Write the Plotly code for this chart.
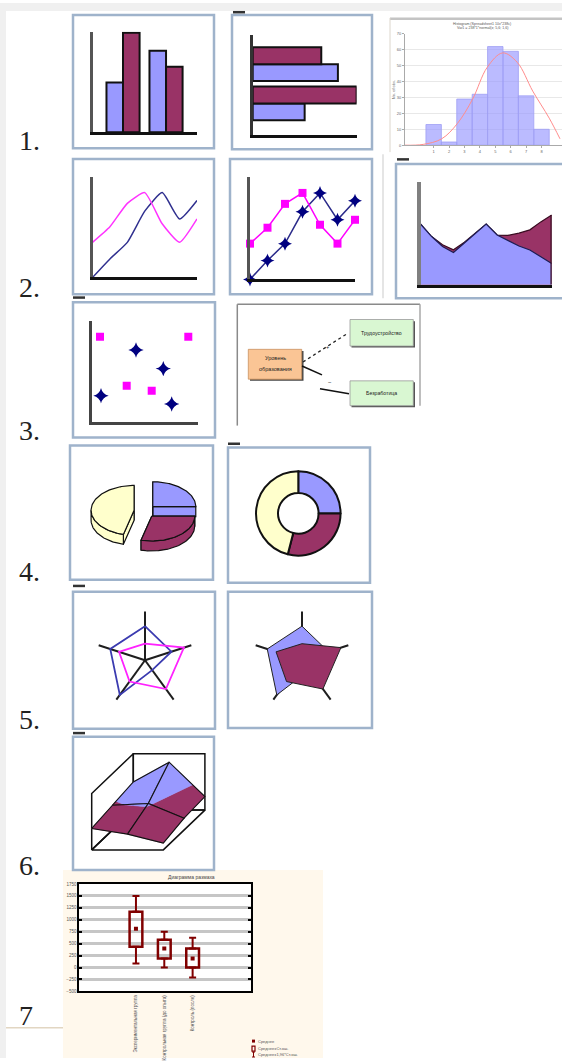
import numpy as np
import plotly.graph_objects as go

W, H = 562, 1061

# ---------------- data ----------------
bar_cats = [0, 1]
bar_blue = [50, 82]
bar_maroon = [100, 66]

hist_bins = [1, 2, 3, 4, 5, 6, 7, 8]
hist_counts = [13, 2, 29, 32, 62, 59, 31, 10]
hist_curve_x = [-0.86, 0.32, 1.52, 2.53, 3.53, 4.48, 5.48, 6.43, 7.43, 8.5, 9.2]
hist_curve_y = [0, 0.5, 4, 13.5, 29, 49, 58, 52, 34, 17, 4]
hist_yticks = [0, 10, 20, 30, 40, 50, 60, 70]

line_x = [0, 1, 2, 3, 4, 5, 6]
line_pink = [36, 52, 76, 87, 55, 36, 60]
line_navy = [0, 19, 36, 68, 87, 60, 79]

area_x = list(range(13))
area_blue = [60.6, 48.3, 38.3, 32.3, 41.8, 51.3, 60.8, 49.8, 44.3, 38.8, 34.8, 28.3, 21.3]
area_maroon = [60.6, 48.3, 40.0, 35.0, 42.5, 51.3, 60.8, 49.8, 49.5, 51.7, 55.0, 63.0, 70.0]

scatter_pink_x = [0.83, 9.66, 3.5, 6.0]
scatter_pink_y = [8.53, 8.53, 3.6, 3.1]
scatter_navy_x = [4.43, 7.16, 0.93, 8.0]
scatter_navy_y = [7.2, 5.33, 2.6, 1.77]

pie_values = [25, 29, 46]

radar_axes = ["A", "B", "C", "D", "E"]
radar_blue = [0.70, 0.75, 0.88, 0.25, 0.57]
radar_pink = [0.34, 0.56, 0.54, 0.73, 0.84]

# surface heights, rows from front (0) to back (2)
surface_z = [
    [0.38, 0.28, 0.12],
    [0.44, 0.47, 0.21],
    [0.50, 0.85, 0.24],
]
surface_band = 0.45

box_labels = ["Экспериментальная группа", "Контрольная группа (до опыта)", "Контроль (после)"]
box_mean = [812, 396, 187]
box_se_lo = [437, 187, 0]
box_se_hi = [1167, 583, 396]
box_ci_lo = [83, 0, -208]
box_ci_hi = [1500, 750, 625]
box_yticks = [-500, -250, 0, 250, 500, 750, 1000, 1250, 1500, 1750]

# ---------------- style ----------------
BLUE = "#9999ff"
MAROON = "#993366"
YELLOW = "#ffffcc"
PINK = "#ff00ff"
NAVY = "#000080"
FRAME = "#9fb3cb"
SANS = "Liberation Sans"
SERIF = "Liberation Serif"

fig = go.Figure()
shapes = []
annotations = []
layout = {}
axis_count = [0]


def px_x(x):
    return x / W


def px_y(y):
    return 1 - y / H


def new_axes(box, xr, yr, xkw=None, ykw=None):
    axis_count[0] += 1
    k = axis_count[0]
    s = "" if k == 1 else str(k)
    x0, y0, x1, y1 = box
    base = dict(showgrid=False, zeroline=False, showticklabels=False, ticks="",
                showline=False, fixedrange=True)
    xa = dict(base, domain=[x0 / W, x1 / W], range=xr, anchor="y" + s)
    ya = dict(base, domain=[1 - y1 / H, 1 - y0 / H], range=yr, anchor="x" + s)
    if xkw:
        xa.update(xkw)
    if ykw:
        ya.update(ykw)
    layout["xaxis" + s] = xa
    layout["yaxis" + s] = ya
    return "x" + s, "y" + s


def paper_rect(x0, y0, x1, y1, line_color=None, width=0, fill=None, layer="above"):
    shapes.append(dict(type="rect", xref="paper", yref="paper",
                       x0=px_x(x0), x1=px_x(x1), y0=px_y(y1), y1=px_y(y0),
                       line=dict(color=line_color or "rgba(0,0,0,0)", width=width),
                       fillcolor=fill or "rgba(0,0,0,0)", layer=layer))


def paper_line(x0, y0, x1, y1, color, width, dash="solid", layer="above"):
    shapes.append(dict(type="line", xref="paper", yref="paper",
                       x0=px_x(x0), x1=px_x(x1), y0=px_y(y0), y1=px_y(y1),
                       line=dict(color=color, width=width, dash=dash), layer=layer))


def paper_text(x, y, text, size, color="#222", family=SANS, xanchor="center",
               yanchor="middle", angle=0):
    annotations.append(dict(xref="paper", yref="paper", x=px_x(x), y=px_y(y), text=text,
                            showarrow=False, font=dict(size=size, color=color, family=family),
                            xanchor=xanchor, yanchor=yanchor, textangle=angle, borderpad=0))


def poly(xs, ys, fill, xa, ya, line_color="#111", lw=1.2):
    fig.add_scatter(x=list(xs) + [xs[0]], y=list(ys) + [ys[0]], fill="toself",
                    fillcolor=fill, mode="lines", line=dict(color=line_color, width=lw),
                    xaxis=xa, yaxis=ya, hoverinfo="skip")


def axline(color, width):
    return dict(showline=True, linecolor=color, linewidth=width)


# ---------------- page background ----------------
paper_rect(0, 0, 6, H, fill="#f0f0f0", layer="below")
paper_rect(0, 0, W, 8, fill="#f0f0f0", layer="below")
paper_rect(63, 872, 323, 1061, fill="#fff8ec", layer="below")
paper_rect(79.3, 886, 250.7, 994, fill="#ffffff", layer="below")

# ---------------- 1. columns ----------------
xa, ya = new_axes((92.5, 29, 197, 130), [-0.71, 1.72], [0, 101],
                  axline("#111", 3), axline("#555", 3))
bw = 0.385
fig.add_bar(x=bar_cats, y=bar_blue, width=bw, offset=-bw, xaxis=xa, yaxis=ya,
            marker=dict(color=BLUE, line=dict(color="#111", width=2)))
fig.add_bar(x=bar_cats, y=bar_maroon, width=bw, offset=0, xaxis=xa, yaxis=ya,
            marker=dict(color=MAROON, line=dict(color="#111", width=2)))

# ---------------- 1. horizontal bars ----------------
xa, ya = new_axes((252.7, 32, 356.6, 133), [0, 100], [-0.81, 1.746],
                  axline("#111", 3), axline("#333", 3))
bh = 0.43
fig.add_bar(y=bar_cats, x=bar_blue, orientation="h", width=bh, offset=-bh, xaxis=xa, yaxis=ya,
            marker=dict(color=BLUE, line=dict(color="#111", width=2)))
fig.add_bar(y=bar_cats, x=bar_maroon, orientation="h", width=bh, offset=0, xaxis=xa, yaxis=ya,
            marker=dict(color=MAROON, line=dict(color="#111", width=2)))

# ---------------- 1. histogram ----------------
tiny = dict(size=4, color="#666", family=SANS)
xa, ya = new_axes((405, 31, 562, 143), [-0.86, 9.33], [0, 70],
                  dict(showticklabels=True, tickvals=hist_bins, tickfont=tiny, ticks="outside",
                       ticklen=2, tickcolor="#aaa", showline=True, linecolor="#aaa", linewidth=1),
                  dict(showticklabels=True, tickvals=hist_yticks, tickfont=tiny, showgrid=True,
                       gridcolor="#e8e8e8", gridwidth=1, ticks="outside", ticklen=2,
                       tickcolor="#aaa", showline=True, linecolor="#aaa", linewidth=1,
                       title=dict(text="No. of obs.", font=tiny, standoff=1)))
fig.add_bar(x=hist_bins, y=hist_counts, width=1, xaxis=xa, yaxis=ya,
            marker=dict(color="rgba(150,150,255,0.65)", line=dict(color="#a0a0f4", width=0.8)))
fig.add_scatter(x=hist_curve_x, y=hist_curve_y, mode="lines", xaxis=xa, yaxis=ya,
                line=dict(color="#ff8c8c", width=1, shape="spline"))
paper_rect(390, 14.5, 562, 17, fill="#c4c4c4")
paper_line(390, 15, 390, 150, "#dcd6cc", 1)
paper_text(482, 21, "Histogram (Spreadsheet1 10v*238c)", 3.6, color="#555")
paper_text(482, 25.5, "Var1 = 238*1*normal(x; 5,6; 1,6)", 3.6, color="#555")

# ---------------- 2. lines ----------------
xa, ya = new_axes((92.5, 175, 197, 276), [0, 6], [0, 103], axline("#111", 3), axline("#555", 3))
fig.add_scatter(x=line_x, y=line_navy, mode="lines", xaxis=xa, yaxis=ya,
                line=dict(color="#30308f", width=1.5, shape="spline", smoothing=0.5))
fig.add_scatter(x=line_x, y=line_pink, mode="lines", xaxis=xa, yaxis=ya,
                line=dict(color="#ff33ff", width=1.5, shape="spline", smoothing=0.5))

# ---------------- 2. lines with markers ----------------
xa, ya = new_axes((250, 175, 355, 278), [0, 6], [0, 103], axline("#111", 3), axline("#555", 3))
fig.add_scatter(x=line_x, y=line_navy, mode="lines+markers", xaxis=xa, yaxis=ya, cliponaxis=False,
                line=dict(color="#2b2b8a", width=1.5),
                marker=dict(symbol="star-diamond", size=10, color=NAVY))
fig.add_scatter(x=line_x, y=line_pink, mode="lines+markers", xaxis=xa, yaxis=ya, cliponaxis=False,
                line=dict(color=PINK, width=1.5),
                marker=dict(symbol="square", size=8, color=PINK))

# ---------------- 2. area ----------------
xa, ya = new_axes((420.7, 180, 551.7, 283.3), [0, 12], [0, 103],
                  axline("#111", 2.5), axline("#808080", 4))
fig.add_scatter(x=area_x, y=area_maroon, mode="lines", fill="tozeroy", fillcolor=MAROON,
                line=dict(color="#3a0d22", width=1.2), xaxis=xa, yaxis=ya)
fig.add_scatter(x=area_x, y=area_blue, mode="lines", fill="tozeroy", fillcolor=BLUE,
                line=dict(color="#1d1d55", width=1.2), xaxis=xa, yaxis=ya)
fig.add_scatter(x=[area_x[-1]] * 2, y=[0, area_maroon[-1]], mode="lines", xaxis=xa, yaxis=ya,
                line=dict(color="#3a0d22", width=2.5))
paper_line(383, 152, 383, 297, "#d4d4d4", 1.2)

# ---------------- 3. scatter ----------------
xa, ya = new_axes((91.7, 320, 198.3, 421), [0, 10.66], [0, 10.1],
                  axline("#444", 3), axline("#444", 3))
fig.add_scatter(x=scatter_pink_x, y=scatter_pink_y, mode="markers", xaxis=xa, yaxis=ya,
                marker=dict(symbol="square", size=8, color=PINK))
fig.add_scatter(x=scatter_navy_x, y=scatter_navy_y, mode="markers", xaxis=xa, yaxis=ya,
                marker=dict(symbol="star-diamond", size=11, color=NAVY))

# ---------------- 3. scheme ----------------
paper_line(237.3, 303, 237.3, 425, "#8a8a8a", 1.5)
paper_line(237.3, 303, 420, 303, "#8a8a8a", 1.5)
paper_line(420, 303, 420, 405, "#a8a8a8", 1.5)
paper_rect(250, 350, 303.5, 380, fill="#444")
paper_rect(248.3, 348.3, 301.7, 378.3, line_color="#c89060", width=0.8, fill="#fac595")
paper_rect(351.5, 320, 415, 346.5, fill="#555")
paper_rect(350, 318.3, 413.3, 345, line_color="#9a9a9a", width=0.8, fill="#d9f7d2")
paper_rect(351.5, 381.5, 415, 406.5, fill="#555")
paper_rect(350, 380, 413.3, 405, line_color="#9a9a9a", width=0.8, fill="#d9f7d2")
paper_text(275, 357.5, "Уровень", 5.5)
paper_text(275, 368.5, "образования", 5.5)
paper_text(381.7, 331.7, "Трудоустройство", 5.2)
paper_text(381.7, 392.5, "Безработица", 5.2)
paper_line(303, 361, 348, 332, "#222", 1.3, dash="dot")
paper_line(302, 365, 322, 374, "#111", 1.6)
paper_line(320, 388, 349, 393, "#111", 1.6)
paper_text(327.5, 346, "+", 5.5)
paper_text(330, 381, "−", 6)

# ---------------- 4. exploded 3-D pie ----------------
pie_colors = [BLUE, MAROON, YELLOW]
xa, ya = new_axes((70, 445, 213, 580), [70, 213], [580, 445])


def add_pie3d(values, colors, cx, cy, rx, ry, depth, pull):
    total = float(sum(values))
    parts = []
    start = 90.0
    for v, c in zip(values, colors):
        sweep = 360.0 * v / total
        a_hi, a_lo = start, start - sweep
        start = a_lo
        mid = np.radians((a_hi + a_lo) / 2)
        ox = cx + pull * np.cos(mid)
        oy = cy - pull * np.sin(mid) * ry / rx
        parts.append((oy, ox, a_lo, a_hi, c))
    parts.sort(key=lambda p: p[0])
    for oy, ox, a_lo, a_hi, c in parts:
        def rim(t):
            r = np.radians(t)
            return ox + rx * np.cos(r), oy - ry * np.sin(r)
        for a in (a_lo, a_hi):
            ex, ey = rim(np.array([a]))
            poly([ox, ex[0], ex[0], ox], [oy, ey[0], ey[0] + depth, oy + depth], c, xa, ya)
        f0, f1 = max(a_lo, -180.0), min(a_hi, 0.0)
        if f1 > f0:
            t = np.linspace(f0, f1, 50)
            sx, sy = rim(t)
            poly(list(sx) + list(sx[::-1]), list(sy) + list((sy + depth)[::-1]), c, xa, ya)
        t = np.linspace(a_lo, a_hi, 80)
        sx, sy = rim(t)
        poly([ox] + list(sx), [oy] + list(sy), c, xa, ya)


add_pie3d(pie_values, pie_colors, 145, 511, 43, 25, 10, 11)

# ---------------- 4. doughnut ----------------
fig.add_trace(go.Pie(values=pie_values, sort=False, direction="clockwise", rotation=0,
                     hole=0.48, textinfo="none", hoverinfo="skip",
                     marker=dict(colors=pie_colors, line=dict(color="#111", width=2)),
                     domain=dict(x=[px_x(255.8), px_x(340.8)], y=[px_y(555.8), px_y(470.8)])))

# ---------------- 5. radar charts ----------------
theta = radar_axes + radar_axes[:1]
fig.add_scatterpolar(r=radar_blue + radar_blue[:1], theta=theta, mode="lines", subplot="polar",
                     line=dict(color="#3b3bb0", width=1.8))
fig.add_scatterpolar(r=radar_pink + radar_pink[:1], theta=theta, mode="lines", subplot="polar",
                     line=dict(color="#ff22ff", width=1.8))
fig.add_scatterpolar(r=radar_blue + radar_blue[:1], theta=theta, mode="lines", subplot="polar2",
                     fill="toself", fillcolor=BLUE, line=dict(color="#222", width=1))
fig.add_scatterpolar(r=radar_pink + radar_pink[:1], theta=theta, mode="lines", subplot="polar2",
                     fill="toself", fillcolor=MAROON, line=dict(color="#222", width=1))


def polar_layout(cx, cy, r):
    return dict(
        domain=dict(x=[px_x(cx - r), px_x(cx + r)], y=[px_y(cy + r), px_y(cy - r)]),
        bgcolor="rgba(0,0,0,0)",
        radialaxis=dict(visible=False, range=[0, 1]),
        angularaxis=dict(rotation=90, direction="counterclockwise", showgrid=True,
                         gridcolor="#1e1e1e", gridwidth=2, showline=False, ticks="",
                         showticklabels=False),
    )


layout["polar"] = polar_layout(145, 661, 49)
layout["polar2"] = polar_layout(302, 661, 49)

# ---------------- 6. surface ----------------
xa, ya = new_axes((73, 738, 214, 872), [73, 214], [872, 738])


def proj(i, j, z):
    return 91.7 + 35.8 * i + 20.8 * j, 851.7 - 20.0 * j - 56.7 * z


def wall(corners):
    pts = [proj(*c) for c in corners] + [proj(*corners[0])]
    fig.add_scatter(x=[p[0] for p in pts], y=[p[1] for p in pts], mode="lines", xaxis=xa,
                    yaxis=ya, line=dict(color="#111", width=1.5), hoverinfo="skip")


wall([(0, 2, 0), (2, 2, 0), (2, 2, 1), (0, 2, 1)])
wall([(0, 0, 0), (0, 2, 0), (0, 2, 1), (0, 0, 1)])
wall([(0, 0, 0), (2, 0, 0), (2, 2, 0), (0, 2, 0)])


def clip(pts, level, above):
    out = []
    n = len(pts)
    for k in range(n):
        p, q = pts[k], pts[(k + 1) % n]
        pin = p[2] >= level if above else p[2] <= level
        qin = q[2] >= level if above else q[2] <= level
        if pin:
            out.append(p)
        if pin != qin:
            t = (level - p[2]) / (q[2] - p[2])
            out.append(tuple(p[m] + t * (q[m] - p[m]) for m in range(3)))
    return out


nz = len(surface_z)
for j in range(nz - 2, -1, -1):
    for i in range(len(surface_z[0]) - 1):
        quad = [(i, j, surface_z[j][i]), (i + 1, j, surface_z[j][i + 1]),
                (i + 1, j + 1, surface_z[j + 1][i + 1]), (i, j + 1, surface_z[j + 1][i])]
        for above, col in ((False, MAROON), (True, BLUE)):
            part = clip(quad, surface_band, above)
            if len(part) >= 3:
                pp = [proj(*p) for p in part]
                poly([p[0] for p in pp], [p[1] for p in pp], col, xa, ya, line_color=col, lw=0.6)
        qq = [proj(*p) for p in quad] + [proj(*quad[0])]
        fig.add_scatter(x=[p[0] for p in qq], y=[p[1] for p in qq], mode="lines", xaxis=xa,
                        yaxis=ya, line=dict(color="#111", width=1.1), hoverinfo="skip")

# ---------------- 7. box plot (mean, SE, 1.96*SE) ----------------
DR = "#800000"
small = dict(size=4.5, color="#555", family=SANS)
xa, ya = new_axes((79.3, 886, 250.7, 994), [-2, 4.05], [-500, 1750],
                  dict(showline=True, mirror=True, linecolor="#000", linewidth=2,
                       tickvals=[0, 1, 2], ticktext=box_labels, showticklabels=True,
                       tickangle=-90, tickfont=small),
                  dict(showline=True, mirror="ticks", linecolor="#000", linewidth=2,
                       tickvals=box_yticks, showticklabels=True, tickfont=small,
                       ticks="inside", ticklen=3, tickwidth=2, tickcolor="#000",
                       showgrid=True, gridcolor="#c6c6c6", gridwidth=2.5))
fig.add_bar(x=[0, 1, 2], base=box_se_lo, y=[h - l for h, l in zip(box_se_hi, box_se_lo)],
            width=0.45, xaxis=xa, yaxis=ya,
            marker=dict(color="rgba(255,255,255,0)", line=dict(color=DR, width=2.5)))
fig.add_scatter(x=[0, 1, 2], y=box_se_hi, mode="markers", xaxis=xa, yaxis=ya,
                marker=dict(size=1, color="rgba(0,0,0,0)"),
                error_y=dict(type="data", symmetric=False,
                             array=[c - h for c, h in zip(box_ci_hi, box_se_hi)],
                             arrayminus=[0, 0, 0], color=DR, thickness=2, width=3.5))
fig.add_scatter(x=[0, 1, 2], y=box_se_lo, mode="markers", xaxis=xa, yaxis=ya,
                marker=dict(size=1, color="rgba(0,0,0,0)"),
                error_y=dict(type="data", symmetric=False, array=[0, 0, 0],
                             arrayminus=[l - c for l, c in zip(box_se_lo, box_ci_lo)],
                             color=DR, thickness=2, width=3.5))
fig.add_scatter(x=[0, 1, 2], y=box_mean, mode="markers", xaxis=xa, yaxis=ya,
                marker=dict(symbol="square", size=4, color=DR))
paper_text(191.7, 879, "Диаграмма размаха", 5, color="#444")
# legend
paper_rect(252, 1042.5, 255, 1045.5, fill=DR)
paper_text(257, 1044, "Среднее", 4, color="#555", xanchor="left")
paper_rect(252, 1049, 255, 1054, line_color=DR, width=1.2)
paper_text(257, 1051.5, "Среднее±Ст.ош.", 4, color="#555", xanchor="left")
paper_line(253.5, 1055, 253.5, 1060, DR, 1)
paper_line(252, 1055, 255, 1055, DR, 1)
paper_line(252, 1060, 255, 1060, DR, 1)
paper_text(257, 1057.5, "Среднее±1,96*Ст.ош.", 4, color="#555", xanchor="left")

# ---------------- panel frames ----------------
for fx0, fy0, fx1, fy1 in [(73, 12, 214, 146), (232, 12, 372, 147), (73, 157, 214, 293),
                           (230, 157, 372, 293), (396, 162, 565, 297), (73, 301, 215, 437),
                           (70, 445, 213, 580), (228, 447, 370, 583), (73, 592, 215, 730),
                           (228, 592, 372, 729), (73, 738, 214, 872)]:
    paper_rect(fx0, fy0, fx1, fy1, line_color=FRAME, width=2.5)

# small dark dashes between panels
for dx0, dy0 in [(233, 8), (73, 295), (397, 156), (228, 442), (73, 585), (73, 733)]:
    paper_rect(dx0, dy0, dx0 + 12, dy0 + 2.5, fill="#333")

# row numbers
for txt, ty in [("1.", 138), ("2.", 286), ("3.", 430), ("4.", 572), ("5.", 721), ("6.", 867), ("7", 1018)]:
    paper_text(18, ty, txt, 28, color="#222", family=SERIF, xanchor="left")
paper_line(6, 1030.5, 63, 1030.5, "#e2d6c2", 1.5)

layout.update(width=W, height=H, margin=dict(l=0, r=0, t=0, b=0), autosize=False,
              paper_bgcolor="white", plot_bgcolor="rgba(0,0,0,0)", showlegend=False,
              barmode="overlay", shapes=shapes, annotations=annotations)
fig.update_layout(**layout)
fig.write_html("out.html")
